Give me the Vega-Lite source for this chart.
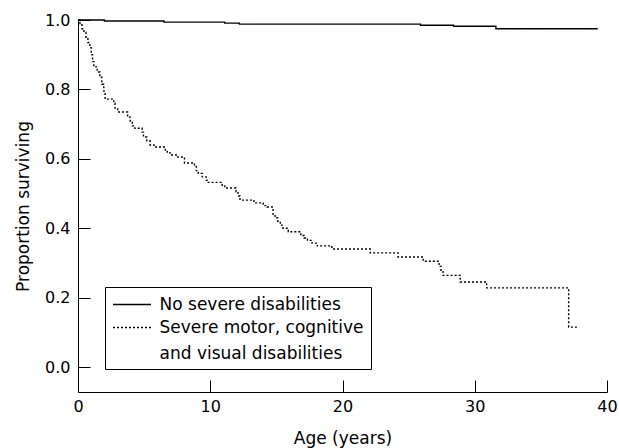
{
  "$schema": "https://vega.github.io/schema/vega-lite/v6.json",
  "width": 529,
  "height": 372,
  "autosize": {"type": "none"},
  "padding": {"left": 78, "top": 20, "right": 12, "bottom": 56},
  "background": "white",
  "config": {
    "view": {"stroke": null},
    "font": "DejaVu Sans",
    "style": {"guide-label": {"lineHeight": 26}},
    "axis": {"grid": false, "domainColor": "black", "tickColor": "black", "labelColor": "black", "titleColor": "black", "titleFontWeight": "normal", "labelFont": "DejaVu Sans", "titleFont": "DejaVu Sans"}
  },
  "data": {
    "values": [
      {"group": "No severe disabilities", "age": 0, "surv": 1.0},
      {"group": "No severe disabilities", "age": 2.0, "surv": 0.997},
      {"group": "No severe disabilities", "age": 6.5, "surv": 0.994},
      {"group": "No severe disabilities", "age": 11.1, "surv": 0.991},
      {"group": "No severe disabilities", "age": 12.2, "surv": 0.988},
      {"group": "No severe disabilities", "age": 25.9, "surv": 0.985},
      {"group": "No severe disabilities", "age": 28.4, "surv": 0.982},
      {"group": "No severe disabilities", "age": 31.6, "surv": 0.975},
      {"group": "No severe disabilities", "age": 39.3, "surv": 0.975},
      {"group": "Severe motor, cognitive and visual disabilities", "age": 0, "surv": 1.0},
      {"group": "Severe motor, cognitive and visual disabilities", "age": 0.15, "surv": 0.99},
      {"group": "Severe motor, cognitive and visual disabilities", "age": 0.3, "surv": 0.975},
      {"group": "Severe motor, cognitive and visual disabilities", "age": 0.45, "surv": 0.965},
      {"group": "Severe motor, cognitive and visual disabilities", "age": 0.6, "surv": 0.95},
      {"group": "Severe motor, cognitive and visual disabilities", "age": 0.75, "surv": 0.935},
      {"group": "Severe motor, cognitive and visual disabilities", "age": 0.9, "surv": 0.92},
      {"group": "Severe motor, cognitive and visual disabilities", "age": 1.0, "surv": 0.9},
      {"group": "Severe motor, cognitive and visual disabilities", "age": 1.1, "surv": 0.88},
      {"group": "Severe motor, cognitive and visual disabilities", "age": 1.2, "surv": 0.865},
      {"group": "Severe motor, cognitive and visual disabilities", "age": 1.45, "surv": 0.85},
      {"group": "Severe motor, cognitive and visual disabilities", "age": 1.65, "surv": 0.835},
      {"group": "Severe motor, cognitive and visual disabilities", "age": 1.8, "surv": 0.815},
      {"group": "Severe motor, cognitive and visual disabilities", "age": 1.95, "surv": 0.795},
      {"group": "Severe motor, cognitive and visual disabilities", "age": 2.05, "surv": 0.772},
      {"group": "Severe motor, cognitive and visual disabilities", "age": 2.7, "surv": 0.76},
      {"group": "Severe motor, cognitive and visual disabilities", "age": 2.8, "surv": 0.746},
      {"group": "Severe motor, cognitive and visual disabilities", "age": 3.0, "surv": 0.735},
      {"group": "Severe motor, cognitive and visual disabilities", "age": 3.75, "surv": 0.72},
      {"group": "Severe motor, cognitive and visual disabilities", "age": 3.95, "surv": 0.705},
      {"group": "Severe motor, cognitive and visual disabilities", "age": 4.1, "surv": 0.695},
      {"group": "Severe motor, cognitive and visual disabilities", "age": 4.3, "surv": 0.688},
      {"group": "Severe motor, cognitive and visual disabilities", "age": 4.85, "surv": 0.677},
      {"group": "Severe motor, cognitive and visual disabilities", "age": 4.95, "surv": 0.663},
      {"group": "Severe motor, cognitive and visual disabilities", "age": 5.2, "surv": 0.652},
      {"group": "Severe motor, cognitive and visual disabilities", "age": 5.45, "surv": 0.64},
      {"group": "Severe motor, cognitive and visual disabilities", "age": 5.75, "surv": 0.634},
      {"group": "Severe motor, cognitive and visual disabilities", "age": 6.6, "surv": 0.625},
      {"group": "Severe motor, cognitive and visual disabilities", "age": 6.75, "surv": 0.617},
      {"group": "Severe motor, cognitive and visual disabilities", "age": 7.1, "surv": 0.611},
      {"group": "Severe motor, cognitive and visual disabilities", "age": 7.55, "surv": 0.605},
      {"group": "Severe motor, cognitive and visual disabilities", "age": 8.05, "surv": 0.588},
      {"group": "Severe motor, cognitive and visual disabilities", "age": 8.8, "surv": 0.578},
      {"group": "Severe motor, cognitive and visual disabilities", "age": 8.95, "surv": 0.566},
      {"group": "Severe motor, cognitive and visual disabilities", "age": 9.1, "surv": 0.558},
      {"group": "Severe motor, cognitive and visual disabilities", "age": 9.4, "surv": 0.548},
      {"group": "Severe motor, cognitive and visual disabilities", "age": 9.7, "surv": 0.538},
      {"group": "Severe motor, cognitive and visual disabilities", "age": 9.85, "surv": 0.532},
      {"group": "Severe motor, cognitive and visual disabilities", "age": 10.9, "surv": 0.524},
      {"group": "Severe motor, cognitive and visual disabilities", "age": 11.1, "surv": 0.516},
      {"group": "Severe motor, cognitive and visual disabilities", "age": 11.95, "surv": 0.505},
      {"group": "Severe motor, cognitive and visual disabilities", "age": 12.1, "surv": 0.493},
      {"group": "Severe motor, cognitive and visual disabilities", "age": 12.25, "surv": 0.481},
      {"group": "Severe motor, cognitive and visual disabilities", "age": 13.3, "surv": 0.473},
      {"group": "Severe motor, cognitive and visual disabilities", "age": 14.0, "surv": 0.465},
      {"group": "Severe motor, cognitive and visual disabilities", "age": 14.3, "surv": 0.461},
      {"group": "Severe motor, cognitive and visual disabilities", "age": 14.75, "surv": 0.44},
      {"group": "Severe motor, cognitive and visual disabilities", "age": 14.9, "surv": 0.43},
      {"group": "Severe motor, cognitive and visual disabilities", "age": 15.1, "surv": 0.42},
      {"group": "Severe motor, cognitive and visual disabilities", "age": 15.3, "surv": 0.409},
      {"group": "Severe motor, cognitive and visual disabilities", "age": 15.5, "surv": 0.4},
      {"group": "Severe motor, cognitive and visual disabilities", "age": 15.9, "surv": 0.39},
      {"group": "Severe motor, cognitive and visual disabilities", "age": 16.85, "surv": 0.379},
      {"group": "Severe motor, cognitive and visual disabilities", "age": 17.1, "surv": 0.372},
      {"group": "Severe motor, cognitive and visual disabilities", "age": 17.35, "surv": 0.365},
      {"group": "Severe motor, cognitive and visual disabilities", "age": 17.7, "surv": 0.357},
      {"group": "Severe motor, cognitive and visual disabilities", "age": 18.1, "surv": 0.349},
      {"group": "Severe motor, cognitive and visual disabilities", "age": 19.2, "surv": 0.34},
      {"group": "Severe motor, cognitive and visual disabilities", "age": 22.1, "surv": 0.329},
      {"group": "Severe motor, cognitive and visual disabilities", "age": 24.2, "surv": 0.317},
      {"group": "Severe motor, cognitive and visual disabilities", "age": 26.1, "surv": 0.305},
      {"group": "Severe motor, cognitive and visual disabilities", "age": 27.3, "surv": 0.29},
      {"group": "Severe motor, cognitive and visual disabilities", "age": 27.45, "surv": 0.275},
      {"group": "Severe motor, cognitive and visual disabilities", "age": 27.6, "surv": 0.264},
      {"group": "Severe motor, cognitive and visual disabilities", "age": 28.9, "surv": 0.245},
      {"group": "Severe motor, cognitive and visual disabilities", "age": 30.9, "surv": 0.228},
      {"group": "Severe motor, cognitive and visual disabilities", "age": 37.1, "surv": 0.115},
      {"group": "Severe motor, cognitive and visual disabilities", "age": 37.8, "surv": 0.115}
    ]
  },
  "mark": {"type": "line", "interpolate": "step-after", "color": "black", "strokeWidth": 1.4},
  "encoding": {
    "x": {
      "field": "age", "type": "quantitative",
      "scale": {"domain": [0, 40], "nice": false, "zero": false},
      "axis": {"values": [0, 10, 20, 30, 40], "title": "Age (years)", "tickSize": -12, "labelPadding": 18, "labelFontSize": 16, "titleFontSize": 17, "titlePadding": 16, "labelFlush": false}
    },
    "y": {
      "field": "surv", "type": "quantitative",
      "scale": {"domain": [-0.072, 1.0], "nice": false, "zero": false},
      "axis": {"values": [0, 0.2, 0.4, 0.6, 0.8, 1.0], "format": ".1f", "title": "Proportion surviving", "tickSize": -12, "labelPadding": 20, "labelFontSize": 16, "titleFontSize": 17, "titlePadding": 12}
    },
    "strokeDash": {
      "field": "group", "type": "nominal",
      "scale": {"domain": ["No severe disabilities", "Severe motor, cognitive and visual disabilities"], "range": [[1, 0], [2, 2]]},
      "legend": {
        "title": null,
        "orient": "none",
        "legendX": 27,
        "legendY": 267,
        "strokeColor": "black",
        "padding": 7,
        "symbolType": "M-2,0H2",
        "symbolSize": 361,
        "symbolOffset": 9.5,
        "symbolStrokeWidth": 1.4,
        "symbolStrokeColor": "black",
        "symbolFillColor": "transparent",
        "labelFontSize": 17,
        "labelFont": "DejaVu Sans",
        "labelColor": "black",
        "labelLimit": 400,
        "labelOffset": 17,
        "rowPadding": 4,
        "labelExpr": "datum.value == 'Severe motor, cognitive and visual disabilities' ? ['Severe motor, cognitive', 'and visual disabilities'] : datum.label"
      }
    }
  }
}
